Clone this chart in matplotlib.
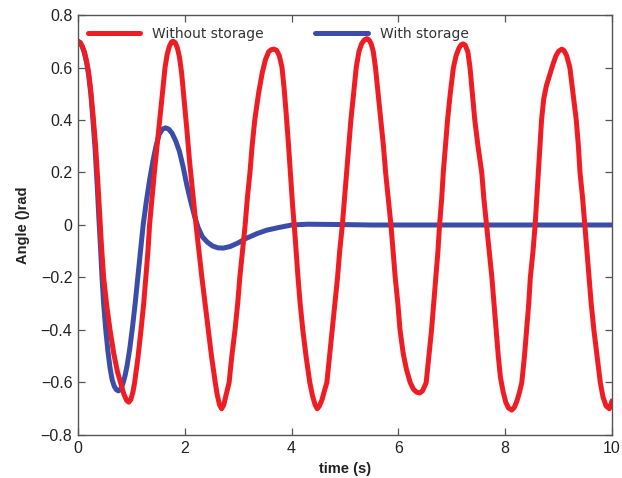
import matplotlib
matplotlib.use("Agg")
import matplotlib.pyplot as plt

# DATA (time in s, angle in rad)

t_without = [0.00, 0.04, 0.08, 0.12, 0.16, 0.20, 0.24, 0.29, 0.33, 0.37, 0.41, 0.44, 0.48,
             0.54, 0.60, 0.67, 0.74, 0.81, 0.86, 0.91, 0.95,
             0.99, 1.03, 1.06, 1.12, 1.18, 1.23, 1.27, 1.31, 1.34, 1.39, 1.43, 1.48,
             1.53, 1.58, 1.63, 1.67, 1.71, 1.75, 1.78,
             1.82, 1.86, 1.90, 1.94, 1.99, 2.04, 2.09, 2.15, 2.21, 2.27, 2.32, 2.38,
             2.44, 2.50, 2.57, 2.61, 2.65, 2.69,
             2.73, 2.77, 2.83, 2.88, 2.94, 2.99, 3.03, 3.08, 3.13, 3.17, 3.22, 3.26,
             3.31, 3.38, 3.45, 3.51, 3.57, 3.62, 3.67,
             3.72, 3.77, 3.82, 3.86, 3.90, 3.94, 3.98, 4.02, 4.06, 4.12, 4.16, 4.21,
             4.27, 4.34, 4.39, 4.44, 4.48,
             4.52, 4.57, 4.61, 4.66, 4.71, 4.76, 4.81, 4.86, 4.90, 4.95, 5.03, 5.07,
             5.11, 5.16, 5.21, 5.26, 5.31, 5.36, 5.41,
             5.45, 5.49, 5.53, 5.57, 5.62, 5.67, 5.72, 5.76, 5.81, 5.86, 5.90, 5.94,
             5.99, 6.03, 6.09, 6.15, 6.22, 6.28, 6.34, 6.40,
             6.45, 6.49, 6.52, 6.57, 6.62, 6.66, 6.70, 6.74, 6.77, 6.81, 6.84, 6.88,
             6.92, 6.97, 7.03, 7.08, 7.13, 7.17, 7.21,
             7.25, 7.30, 7.34, 7.38, 7.43, 7.49, 7.56, 7.60, 7.65, 7.70, 7.75, 7.79,
             7.83, 7.87, 7.91, 7.96, 8.01, 8.06, 8.12,
             8.17, 8.22, 8.27, 8.31, 8.36, 8.40, 8.44, 8.47, 8.52, 8.56, 8.59, 8.62,
             8.65, 8.68, 8.72, 8.77, 8.83, 8.89, 8.95, 9.00, 9.06,
             9.10, 9.15, 9.21, 9.27, 9.33, 9.37, 9.40, 9.45, 9.49, 9.53, 9.57, 9.61,
             9.66, 9.72, 9.78, 9.83, 9.89, 9.95, 10.00]
angle_without = [0.70, 0.695, 0.68, 0.66, 0.625, 0.58, 0.51, 0.40, 0.30, 0.17, 0.03, -0.08, -0.20,
                 -0.31, -0.40, -0.49, -0.56, -0.61, -0.645, -0.668, -0.675,
                 -0.665, -0.635, -0.60, -0.51, -0.40, -0.30, -0.20, -0.10, 0.00, 0.11, 0.20, 0.30,
                 0.40, 0.50, 0.60, 0.65, 0.68, 0.697, 0.70,
                 0.695, 0.675, 0.64, 0.58, 0.47, 0.36, 0.24, 0.12, 0.00, -0.11, -0.20, -0.30,
                 -0.40, -0.50, -0.60, -0.65, -0.685, -0.70,
                 -0.685, -0.65, -0.60, -0.50, -0.40, -0.30, -0.20, -0.10, 0.00, 0.10, 0.20, 0.30,
                 0.40, 0.50, 0.58, 0.63, 0.66, 0.668, 0.67,
                 0.665, 0.645, 0.60, 0.52, 0.42, 0.31, 0.19, 0.07, -0.03, -0.20, -0.30, -0.40,
                 -0.50, -0.60, -0.65, -0.685, -0.70,
                 -0.69, -0.665, -0.635, -0.60, -0.50, -0.40, -0.30, -0.20, -0.10, 0.00, 0.20, 0.30,
                 0.40, 0.50, 0.60, 0.66, 0.69, 0.705, 0.71,
                 0.705, 0.69, 0.66, 0.60, 0.50, 0.40, 0.30, 0.20, 0.10, 0.00, -0.10, -0.20,
                 -0.30, -0.40, -0.49, -0.55, -0.60, -0.625, -0.637, -0.64,
                 -0.632, -0.615, -0.60, -0.50, -0.40, -0.30, -0.20, -0.10, 0.00, 0.10, 0.20, 0.30,
                 0.40, 0.50, 0.60, 0.645, 0.672, 0.686, 0.69,
                 0.685, 0.66, 0.60, 0.51, 0.40, 0.30, 0.20, 0.10, 0.00, -0.10, -0.20, -0.30,
                 -0.40, -0.50, -0.58, -0.635, -0.675, -0.697, -0.705,
                 -0.695, -0.67, -0.635, -0.60, -0.50, -0.40, -0.30, -0.20, -0.10, 0.00, 0.10, 0.20,
                 0.30, 0.40, 0.48, 0.53, 0.57, 0.61, 0.645, 0.662, 0.67,
                 0.665, 0.645, 0.60, 0.50, 0.40, 0.30, 0.20, 0.10, 0.00, -0.10, -0.20, -0.30,
                 -0.40, -0.50, -0.60, -0.655, -0.69, -0.70, -0.67]

t_with = [0.00, 0.04, 0.08, 0.12, 0.16, 0.20, 0.24, 0.28, 0.32, 0.36, 0.39, 0.42, 0.45,
          0.48, 0.52, 0.56, 0.60, 0.64, 0.68, 0.72, 0.76, 0.80, 0.84, 0.88, 0.92,
          0.97, 1.02, 1.07, 1.12, 1.17, 1.22, 1.28, 1.34, 1.40, 1.46, 1.52, 1.58,
          1.64, 1.70, 1.76, 1.83, 1.90, 1.97, 2.04, 2.11, 2.18, 2.25, 2.33, 2.42,
          2.52, 2.62, 2.72, 2.85, 3.00, 3.16, 3.35, 3.53, 3.75, 4.00, 4.30, 4.80,
          5.50, 6.50, 7.50, 8.50, 9.50, 10.00]
angle_with = [0.70, 0.695, 0.68, 0.655, 0.62, 0.57, 0.50, 0.40, 0.29, 0.15, 0.03, -0.08, -0.20,
              -0.30, -0.40, -0.48, -0.545, -0.59, -0.615, -0.628, -0.632, -0.625, -0.605, -0.575, -0.535,
              -0.47, -0.39, -0.30, -0.20, -0.10, 0.00, 0.09, 0.17, 0.24, 0.30, 0.345, 0.365,
              0.37, 0.365, 0.35, 0.32, 0.28, 0.22, 0.15, 0.09, 0.035, -0.01, -0.045, -0.065,
              -0.08, -0.087, -0.088, -0.082, -0.068, -0.05, -0.033, -0.02, -0.01, 0.00, 0.003, 0.002,
              0.00, 0.00, 0.00, 0.00, 0.00, 0.00]

x_ticks = [0, 2, 4, 6, 8, 10]
y_ticks = [-0.8, -0.6, -0.4, -0.2, 0, 0.2, 0.4, 0.6, 0.8]
y_tick_labels = ['\u22120.8', '\u22120.6', '\u22120.4', '\u22120.2', '0', '0.2', '0.4', '0.6', '0.8']

# PLOT

plt.rcParams['font.family'] = ['Liberation Sans', 'DejaVu Sans']

fig = plt.figure(figsize=(6.22, 4.78), dpi=100)
ax = fig.add_axes([0.1254, 0.09, 0.8586, 0.8786])

blue_line, = ax.plot(t_with, angle_with, color='#3B4DA8', lw=3.6,
                     solid_capstyle='round', solid_joinstyle='round', label='With storage')
red_line, = ax.plot(t_without, angle_without, color='#EE1D24', lw=3.6,
                    solid_capstyle='round', solid_joinstyle='round', label='Without storage')

ax.set_xlim(0, 10)
ax.set_ylim(-0.8, 0.8)
ax.set_xticks(x_ticks)
ax.set_xticklabels([str(v) for v in x_ticks])
ax.set_yticks(y_ticks)
ax.set_yticklabels(y_tick_labels)

ax.tick_params(direction='in', length=5, width=0.9, colors='#555555',
               labelcolor='#222222', labelsize=11.5, top=True, right=True, pad=4)
for sp in ax.spines.values():
    sp.set_color('#555555')
    sp.set_linewidth(1.0)

ax.set_xlabel('time (s)', fontsize=10.5, fontweight='bold', color='#222222', labelpad=4.5)
ax.set_ylabel('Angle ()rad', fontsize=10.5, fontweight='bold', color='#222222', labelpad=7.5)

leg = ax.legend(handles=[red_line, blue_line], ncol=2, frameon=False,
                loc='upper left', bbox_to_anchor=(0.008, 0.985), borderaxespad=0,
                handlelength=3.75, handletextpad=0.9, columnspacing=3.7,
                prop={'family': 'DejaVu Sans', 'size': 10})
for txt in leg.get_texts():
    txt.set_color('#333333')

fig.savefig('out.png', dpi=100)
